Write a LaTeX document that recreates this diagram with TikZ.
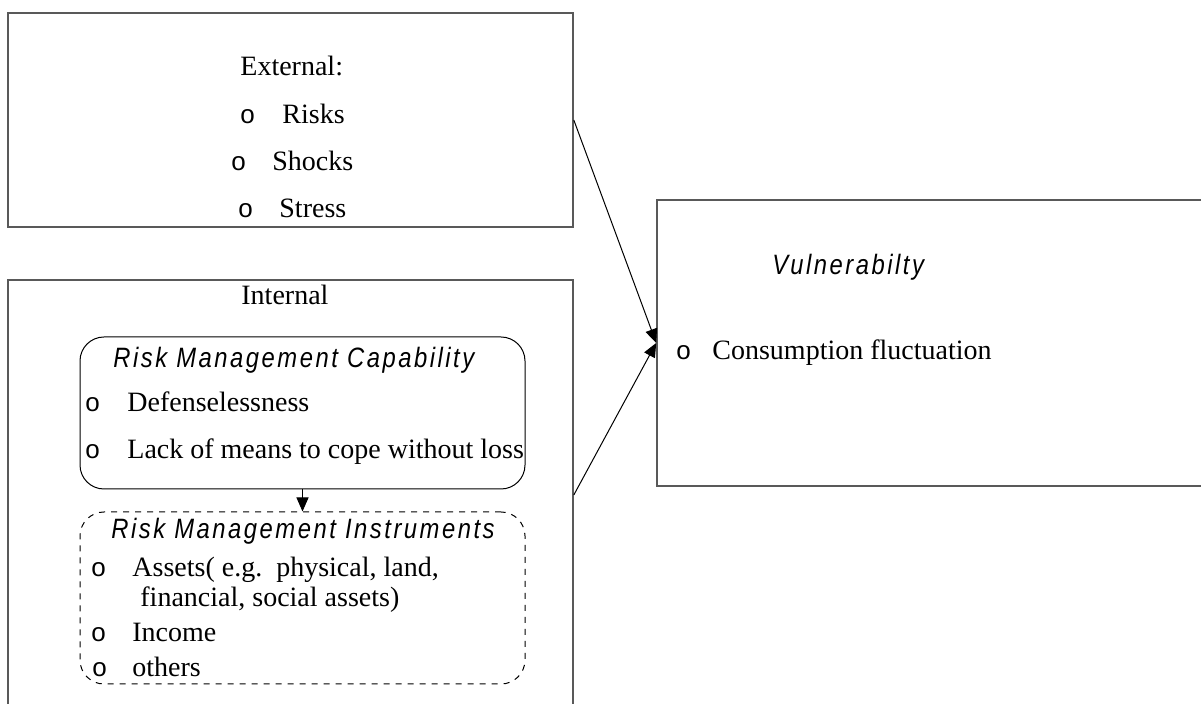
\documentclass[tikz,border=0pt]{standalone}
\usepackage{fontspec}
\setmainfont{Liberation Serif}
\newfontfamily\headfont[FakeStretch=0.85,LetterSpace=9]{Liberation Sans}
\newfontfamily\dotfont{Liberation Sans}
\usetikzlibrary{arrows.meta}
\newcommand{\bitem}[2]{\makebox[#1][l]{\dotfont\fontsize{13}{15}\selectfont o}#2}

\begin{document}
\begin{tikzpicture}[x=0.5pt, y=-0.5pt, >={Triangle[length=7pt,width=6pt]},
    frame/.style={draw=black!65, line width=0.8pt, inner sep=0pt},
    inbox/.style={draw, line width=0.5pt, rounded corners=12pt, minimum width=222.5pt, inner sep=0pt},
    txt/.style={inner sep=0pt, anchor=base west, font=\fontsize{14}{17}\selectfont},
    head/.style={inner sep=0pt, anchor=base west, font=\headfont\itshape\fontsize{14}{17}\selectfont}]
  \useasboundingbox (0,0) rectangle (1201,704);
  % boxes
  \node (ext) [frame, minimum width=282.5pt, minimum height=107pt] at (290.5,120) {};
  \node (int) [frame, minimum width=282.5pt, minimum height=215pt] at (290.5,495) {};
  \node (vul) [frame, minimum width=279pt, minimum height=143pt]   at (936,343)   {};
  \node (rmc) [inbox, minimum height=76pt]         at (302.5,413) {};
  \node (rmi) [inbox, dashed, minimum height=86pt] at (302.5,598) {};
  % external
  \node (extT)   [txt] at (240,76)  {External:};
  \node (risks)  [txt] at (240,124) {\bitem{21pt}{Risks}};
  \node (shocks) [txt] at (231,171) {\bitem{20.5pt}{Shocks}};
  \node (stress) [txt] at (238,218) {\bitem{20.5pt}{Stress}};
  % internal
  \node (intT)  [txt]  at (241,305) {Internal};
  \node (rmcT)  [head] at (113,368) {Risk Management Capability};
  \node (defen) [txt]  at (85,412)  {\bitem{21pt}{Defenselessness}};
  \node (lack)  [txt]  at (85,459)  {\bitem{21pt}{Lack of means to cope without loss}};
  \node (rmiT)  [head] at (111,539) {Risk Management Instruments};
  \node (assets)[txt]  at (91,577)  {\bitem{20.5pt}{Assets( e.g.\ \ physical, land,}};
  \node (finan) [txt]  at (140,607) {financial, social assets)};
  \node (income)[txt]  at (91,642)  {\bitem{20.5pt}{Income}};
  \node (others)[txt]  at (92,677)  {\bitem{20pt}{others}};
  % vulnerability
  \node (vulT)  [head] at (772,275) {Vulnerabilty};
  \node (cons)  [txt]  at (676,360) {\bitem{18pt}{Consumption fluctuation}};
  \path[->, line width=0.5pt]
        (ext.east) edge (vul.west)
        (int.east) edge (vul.west)
        (rmc)      edge (rmi);
\end{tikzpicture}
\end{document}
